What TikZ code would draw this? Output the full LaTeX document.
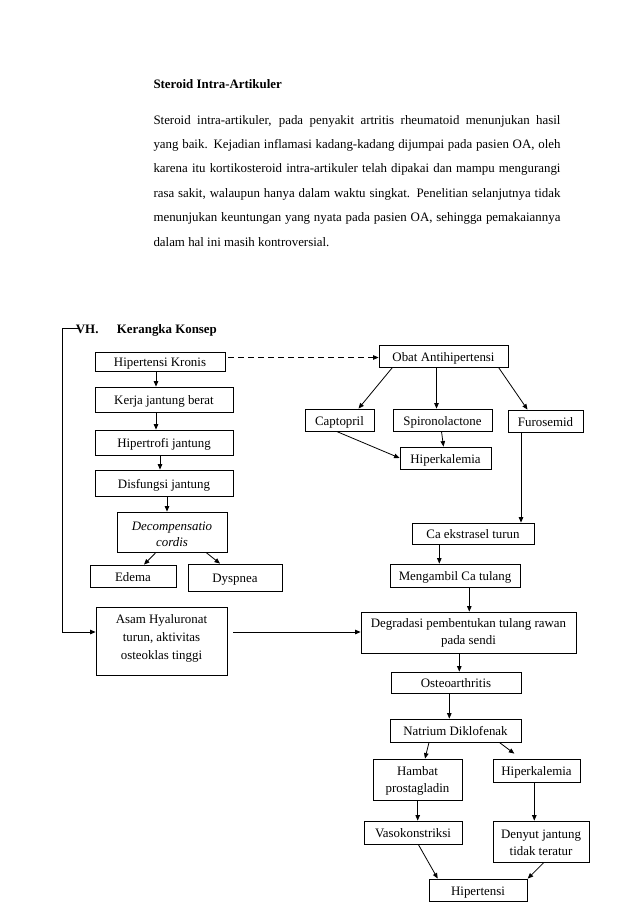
\documentclass[tikz,border=0pt]{standalone}
\usepackage{fontspec}
\setmainfont{Liberation Serif}
\usetikzlibrary{arrows.meta}
\begin{document}
\begin{tikzpicture}[x=1pt,y=-1pt,
  box/.style={draw, line width=0.8pt, inner sep=0pt, align=center, text height=10pt, text depth=0pt, font=\fontsize{12.9}{17}\selectfont},
  arr/.style={line width=0.8pt, -{Triangle[length=5.5pt,width=4.5pt]}},
  dsh/.style={line width=0.8pt, dash pattern=on 6pt off 4pt, -{Triangle[length=5.5pt,width=4.5pt]}},
  txt/.style={inner sep=0pt, anchor=base west, font=\fontsize{12.9}{15.5}\selectfont}]
\useasboundingbox[fill=white] (0,0) rectangle (638,903);

% ---- top text ----
\node[txt, font=\fontsize{12.9}{15.5}\selectfont\bfseries] (title) at (153.3,88) {Steroid Intra-Artikuler};
\node[inner sep=0pt, anchor=north west, text width=407pt, align=justify,
      font=\fontsize{12.9}{24.4}\selectfont] (para) at (153.3,115)
 {Steroid intra-artikuler, pada penyakit artritis rheumatoid menunjukan hasil\linebreak
  yang baik. Kejadian inflamasi kadang-kadang dijumpai pada pasien OA, oleh\linebreak
  karena itu kortikosteroid intra-artikuler telah dipakai dan mampu mengurangi\linebreak
  rasa sakit, walaupun hanya dalam waktu singkat. Penelitian selanjutnya tidak\linebreak
  menunjukan keuntungan yang nyata pada pasien OA, sehingga pemakaiannya\linebreak
  dalam hal ini masih kontroversial.};

% ---- section heading ----
\node[txt, font=\fontsize{12.9}{15.5}\selectfont\bfseries] (vhn) at (75.7,333) {VH.};
\node[txt, font=\fontsize{12.9}{15.5}\selectfont\bfseries] (kk) at (116.7,333) {Kerangka Konsep};

% ---- left column ----
\node[box, minimum width=130pt, minimum height=19pt, text height=9pt] (hk) at (160,361.5) {Hipertensi Kronis};
\node[box, minimum width=138pt, minimum height=25pt] (kjb) at (164,399.5) {Kerja jantung berat};
\node[box, minimum width=138pt, minimum height=25pt] (hj) at (164,442.5) {Hipertrofi jantung};
\node[box, minimum width=138pt, minimum height=26pt] (dj) at (164,483) {Disfungsi jantung};
\node[box, minimum width=110pt, minimum height=40pt, text height=29.2pt, font=\fontsize{12.9}{16.3}\selectfont\itshape] (dc) at (172,532) {Decompensatio\\cordis};
\node[box, minimum width=86pt, minimum height=22pt] (ed) at (133,576) {Edema};
\node[box, minimum width=94pt, minimum height=27pt] (dy) at (235,577.5) {Dyspnea};
\node[box, minimum width=131pt, minimum height=68pt, text height=36.6pt, font=\fontsize{12.9}{18}\selectfont] (ah) at (161.5,641) {Asam Hyaluronat\\turun, aktivitas\\osteoklas tinggi};

% ---- right column ----
\node[box, minimum width=129pt, minimum height=22pt, text height=11pt] (oa) at (443.5,356) {Obat Antihipertensi};
\node[box, minimum width=69pt, minimum height=22pt] (cp) at (339.5,420) {Captopril};
\node[box, minimum width=99pt, minimum height=22pt] (sp) at (442.5,420) {Spironolactone};
\node[box, minimum width=75pt, minimum height=22pt] (fu) at (545.5,421) {Furosemid};
\node[box, minimum width=91pt, minimum height=22pt] (hka) at (445.5,458) {Hiperkalemia};
\node[box, minimum width=122pt, minimum height=21pt] (ce) at (473,533.5) {Ca ekstrasel turun};
\node[box, minimum width=130pt, minimum height=23pt] (mc) at (455,575.5) {Mengambil Ca tulang};
\node[box, minimum width=215pt, minimum height=41pt, text height=23.6pt, font=\fontsize{12.9}{16.7}\selectfont] (dg) at (468.5,632.5) {Degradasi pembentukan tulang rawan\\pada sendi};
\node[box, minimum width=130pt, minimum height=21pt] (os) at (456,682.5) {Osteoarthritis};
\node[box, minimum width=131pt, minimum height=23pt] (nd) at (455.5,730.5) {Natrium Diklofenak};
\node[box, minimum width=89pt, minimum height=41pt, text height=25pt, font=\fontsize{12.9}{16.7}\selectfont] (hp) at (417.5,779.5) {Hambat\\prostagladin};
\node[box, minimum width=87pt, minimum height=23pt] (hkb) at (536.5,770.5) {Hiperkalemia};
\node[box, minimum width=98pt, minimum height=23pt] (vk) at (413,832.5) {Vasokonstriksi};
\node[box, minimum width=96pt, minimum height=41pt, text height=28.2pt, font=\fontsize{12.9}{17}\selectfont] (dn) at (541,841.5) {Denyut jantung\\tidak teratur};
\node[box, minimum width=98pt, minimum height=22pt] (ht) at (478,890) {Hipertensi};

% ---- connectors: left column ----
\draw[arr] ([xshift=-4pt]hk.south) -- ([xshift=-8pt]kjb.north);
\draw[arr] ([xshift=-8pt]kjb.south) -- ([xshift=-8pt]hj.north);
\draw[arr] ([xshift=-4pt]hj.south) -- ([xshift=-4pt]dj.north);
\draw[arr] ([xshift=3pt]dj.south) -- ([xshift=-5pt]dc.north);
\draw[arr] ([xshift=-16pt]dc.south) -- ([xshift=11pt]ed.north);
\draw[arr] ([xshift=34pt]dc.south) -- ([xshift=-15pt]dy.north);
\coordinate (vh) at (79,328.3);
\draw[arr] (vh) -- ++(-17,0) |- ([yshift=9pt]ah.west);
\coordinate (ahr) at ([xshift=6pt,yshift=9pt]ah.east);
\draw[arr] (ahr) -- (ahr -| dg.west);

% ---- connectors: right column ----
\coordinate (hkr) at ([xshift=3pt,yshift=4pt]hk.east);
\draw[dsh] (hkr) -- (hkr -| oa.west);
\draw[arr] ([xshift=-51pt]oa.south) -- ([xshift=19pt]cp.north);
\draw[arr] ([xshift=-7pt]oa.south) -- ([xshift=-6pt]sp.north);
\draw[arr] ([xshift=55pt]oa.south) -- ([xshift=-18pt]fu.north);
\draw[arr] ([xshift=-1pt]sp.south) -- ([xshift=-2pt]hka.north);
\draw[arr] ([xshift=-3pt]cp.south) -- (hka.west);
\draw[arr] ([xshift=-24.5pt]fu.south) -- ([xshift=48pt]ce.north);
\draw[arr] ([xshift=-33.7pt]ce.south) -- ([xshift=-15.7pt]mc.north);
\draw[arr] ([xshift=14.3pt]mc.south) -- ([xshift=0.8pt]dg.north);
\draw[arr] ([xshift=-9.2pt]dg.south) -- ([xshift=3.3pt]os.north);
\draw[arr] ([xshift=-6.7pt]os.south) -- ([xshift=-6.2pt]nd.north);
\draw[arr] ([xshift=-26.5pt]nd.south) -- ([xshift=7.5pt]hp.north);
\draw[arr] ([xshift=43.8pt]nd.south) -- ([xshift=-22.2pt,yshift=5pt]hkb.north);
\draw[arr] ([xshift=0.2pt]hp.south) -- ([xshift=4.7pt]vk.north);
\draw[arr] ([xshift=-2.2pt]hkb.south) -- ([xshift=-6.7pt]dn.north);
\draw[arr] ([xshift=5.3pt]vk.south) -- ([xshift=-40.3pt]ht.north);
\draw[arr] ([xshift=3pt]dn.south) -- ([xshift=49.7pt]ht.north);
\end{tikzpicture}
\end{document}
